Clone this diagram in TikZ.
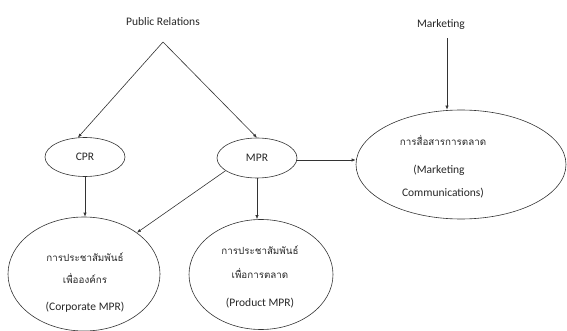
\documentclass[tikz,border=0pt]{standalone}
\usepackage{fontspec}
\setmainfont{Carlito}
\newfontfamily\thaifont[Script=Thai]{Loma}
\usetikzlibrary{shapes.geometric,arrows.meta}
\begin{document}
\begin{tikzpicture}[x=1pt,y=-1pt,
  lbl/.style={inner sep=0pt,text=black!85,font=\fontsize{11.5}{13}\selectfont},
  th/.style={inner sep=0pt,text=black!85,font=\thaifont\fontsize{9.8}{12}\selectfont},
  oval/.style={ellipse,draw=black!80,line width=0.6pt,inner sep=0pt},
  arr/.style={draw=black!80,line width=0.6pt,-{Latex[length=4pt,width=3.2pt]}}]
\useasboundingbox (0,0) rectangle (567,331);
% top labels
\node[lbl] (pr) at (163,22) {Public Relations};
\node[lbl] (mkt) at (441,24) {Marketing};
\coordinate (prb) at (163,42);
% ellipses
\node[oval,minimum width=80pt,minimum height=39pt,lbl] (cpr) at (85,157) {CPR};
\node[oval,minimum width=80pt,minimum height=40pt,lbl] (mpr) at (257,158) {MPR};
\node[oval,minimum width=210pt,minimum height=109pt] (mc) at (461,164.5) {};
\node[oval,minimum width=152pt,minimum height=114pt] (corp) at (84,274) {};
\node[oval,minimum width=144pt,minimum height=110pt] (prod) at (261,274.5) {};
% texts in ellipses
\node[th] (mc1) at (443,140) {การสื่อสารการตลาด};
\node[lbl] (mc2) at (439,170) {(Marketing};
\node[lbl] (mc3) at (443,193) {Communications)};
\node[th] (co1) at (85,257) {การประชาสัมพันธ์};
\node[th] (co2) at (85,278) {เพื่อองค์กร};
\node[lbl] (co3) at (85,307) {(Corporate MPR)};
\node[th] (pd1) at (260,250) {การประชาสัมพันธ์};
\node[th] (pd2) at (260,273) {เพื่อการตลาด};
\node[lbl] (pd3) at (260,303) {(Product MPR)};
% connectors
\draw[arr] (prb) -- (cpr.110);
\draw[arr] (prb) -- (mpr.north);
\draw[arr] ([yshift=-2pt]mpr.east) -- ([yshift=-2pt]mpr.east -| mc.west);
\draw[arr] ([xshift=6pt,yshift=-9pt]mkt.south) -- ([xshift=6pt]mkt.south |- mc.north);
\draw[arr] (cpr.south) -- (cpr.south |- corp.north);
\draw[arr] (mpr.202) -- (corp.38);
\draw[arr] (mpr.south) -- (mpr.south |- prod.north);
\end{tikzpicture}
\end{document}
